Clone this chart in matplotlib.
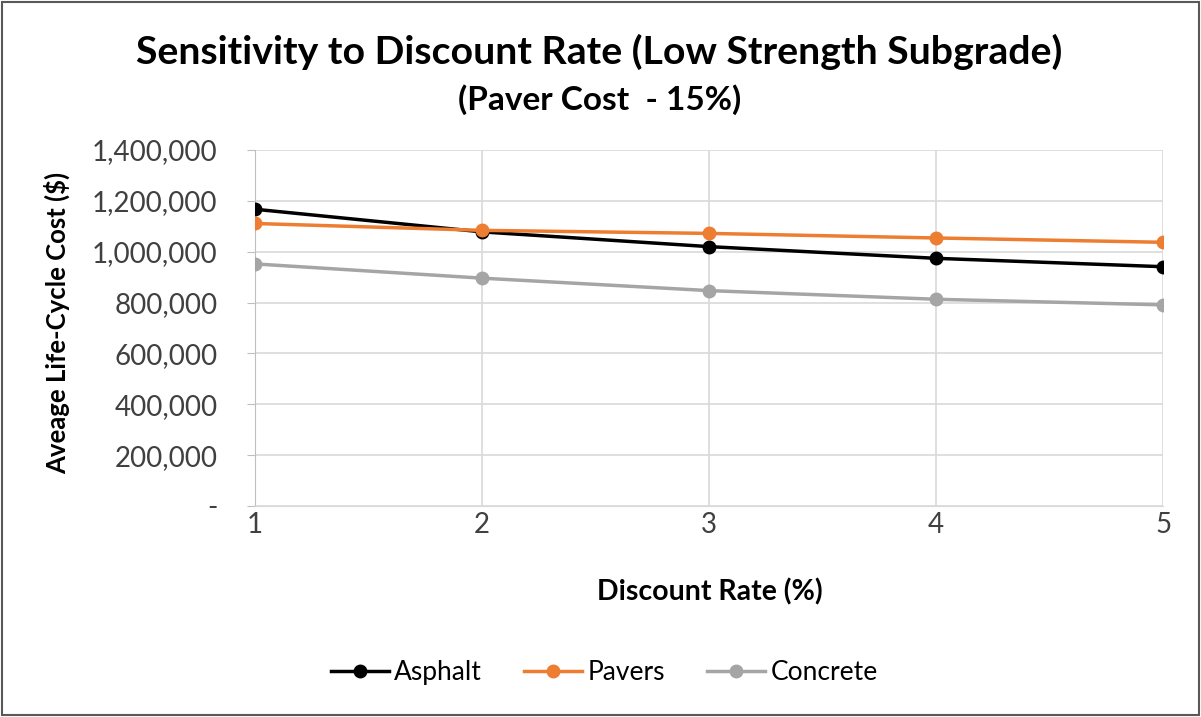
import matplotlib
matplotlib.use("Agg")
import matplotlib.pyplot as plt
from matplotlib.ticker import FuncFormatter
from matplotlib.patches import Rectangle

plt.rcParams['font.family'] = ['Lato', 'DejaVu Sans']

rates = [1, 2, 3, 4, 5]
asphalt = [1167000, 1078000, 1020000, 974000, 941000]
pavers = [1111000, 1084000, 1072000, 1054000, 1037000]
concrete = [952000, 896000, 847000, 813000, 791000]
yticks = [0, 200000, 400000, 600000, 800000, 1000000, 1200000, 1400000]

fig = plt.figure(figsize=(12.01, 7.17), dpi=100)
ax = fig.add_axes([0.2123, 0.2943, 0.9684 - 0.2123, 0.7908 - 0.2943])

ax.plot(rates, asphalt, color='black', lw=2.5, marker='o', ms=9, label='Asphalt', zorder=3)
ax.plot(rates, pavers, color='#ed7d31', lw=2.5, marker='o', ms=9, label='Pavers', zorder=3)
ax.plot(rates, concrete, color='#a5a5a5', lw=2.5, marker='o', ms=9, label='Concrete', zorder=3)

ax.set_xlim(1, 5)
ax.set_ylim(0, 1400000)
ax.set_xticks(rates)
ax.set_yticks(yticks)
ax.yaxis.set_major_formatter(FuncFormatter(lambda v, p: '-' if v == 0 else f'{int(v):,}'))
ax.grid(True, color='#d9d9d9', lw=1.2)
ax.set_axisbelow(True)
for s in ['top', 'right']:
    ax.spines[s].set_visible(False)
ax.spines['left'].set_color('#bfbfbf')
ax.spines['bottom'].set_color('#d9d9d9')
ax.tick_params(axis='y', length=6, color='#bfbfbf', labelsize=20, labelcolor='#404040', pad=21)
ax.tick_params(axis='x', length=0, labelsize=20, labelcolor='#404040', pad=4)

fig.text(710 / 1201, 1 - 592 / 717, 'Discount Rate (%)', ha='center', va='center',
         fontsize=20.5, fontweight='bold')
fig.text(57 / 1201, 1 - 323 / 717, 'Aveage Life-Cycle Cost ($)', ha='center', va='center',
         rotation=90, fontsize=18.5, fontweight='bold')

fig.text(599 / 1201, 0.927, 'Sensitivity to Discount Rate (Low Strength Subgrade)', ha='center', va='center',
         fontsize=28.3, fontweight='bold')
fig.text(600 / 1201, 0.861, '(Paver Cost  - 15%)', ha='center', va='center', fontsize=24, fontweight='bold')

fig.legend(loc='center', bbox_to_anchor=(0.503, 0.062), ncol=3, frameon=False, fontsize=19,
           handlelength=2.2, columnspacing=1.6, handletextpad=0.2)

fig.patches.append(Rectangle((0.002, 0.003), 0.996, 0.994, transform=fig.transFigure,
                             fill=False, edgecolor='#595959', lw=1.5))

fig.savefig('out.png', dpi=100)
